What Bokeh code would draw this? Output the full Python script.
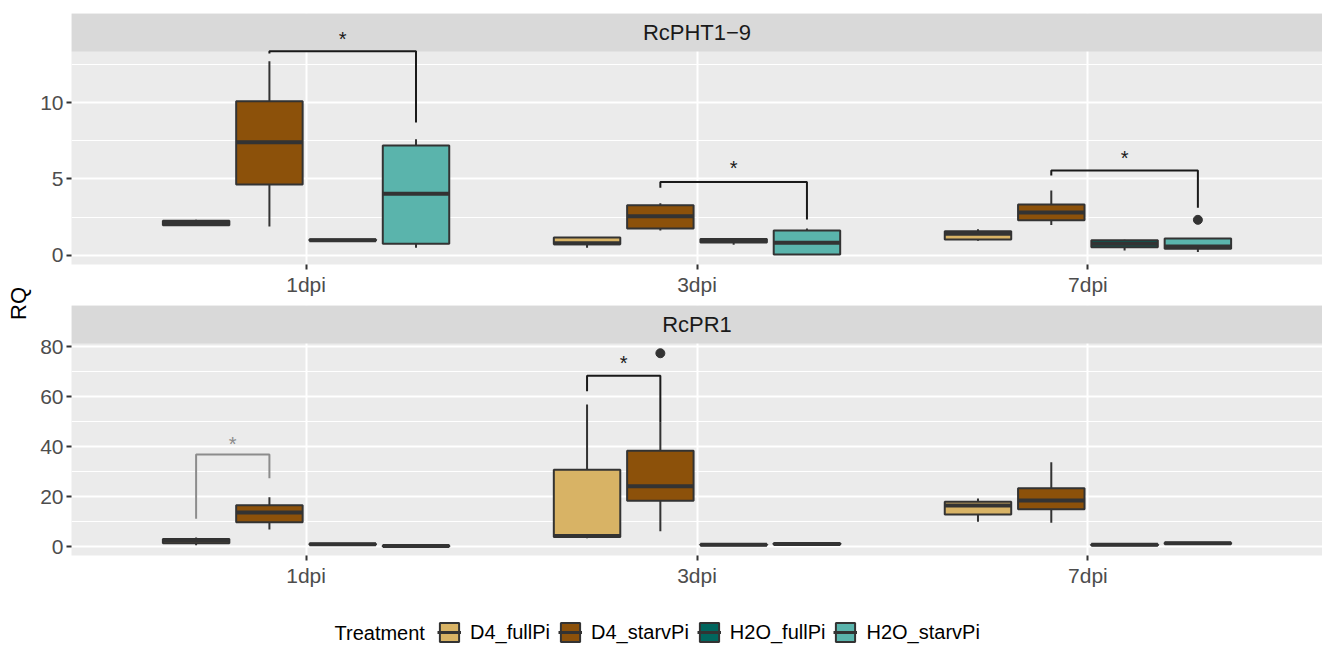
import numpy as np
from bokeh.plotting import figure
from bokeh.models import ColumnDataSource, Range1d, FixedTicker
from bokeh.layouts import column, row
from bokeh.embed import file_html
from bokeh.resources import INLINE
from bokeh.core.properties import value

# ---------------- data ----------------
days = ["1dpi", "3dpi", "7dpi"]
treatments = ["D4_fullPi", "D4_starvPi", "H2O_fullPi", "H2O_starvPi"]
colors = ["#D8B365", "#8C510A", "#01665E", "#5AB4AC"]

# RcPHT1-9 box statistics, order: day-major, treatment-minor
pht_low  = [1.93, 1.90, 0.93, 0.50,   0.50, 1.63, 0.70, 0.05,   0.96, 2.00, 0.33, 0.22]
pht_q1   = [1.98, 4.64, 0.97, 0.76,   0.73, 1.76, 0.85, 0.07,   1.05, 2.31, 0.54, 0.44]
pht_med  = [2.12, 7.40, 1.00, 4.03,   0.80, 2.57, 0.95, 0.83,   1.42, 2.81, 0.76, 0.58]
pht_q3   = [2.27, 10.08, 1.04, 7.19,  1.18, 3.29, 1.08, 1.63,   1.59, 3.33, 1.00, 1.11]
pht_high = [2.33, 12.70, 1.07, 7.60,  1.20, 3.42, 1.10, 1.76,   1.72, 4.25, 1.02, 1.13]
pht_out_day = ["7dpi"]
pht_out_treat = ["H2O_starvPi"]
pht_out_val = [2.33]
pht_br_day = ["1dpi", "3dpi", "7dpi"]
pht_br_left = ["D4_starvPi", "D4_starvPi", "D4_starvPi"]
pht_br_right = ["H2O_starvPi", "H2O_starvPi", "H2O_starvPi"]
pht_br_top = [13.36, 4.80, 5.56]
pht_br_lend = [13.20, 4.42, 5.23]
pht_br_rend = [8.70, 2.35, 3.12]
pht_br_color = ["#1A1A1A", "#1A1A1A", "#1A1A1A"]
pht_star_y = [14.16, 5.71, 6.39]

# RcPR1 box statistics
pr_low  = [0.5, 6.8, 0.6, 0.0,    3.3, 6.1, 0.4, 0.6,    9.9, 9.5, 0.4, 0.9]
pr_q1   = [1.3, 9.7, 0.7, 0.1,    3.8, 18.3, 0.5, 0.8,   12.8, 14.9, 0.5, 1.0]
pr_med  = [2.3, 13.6, 0.9, 0.2,   4.2, 24.1, 0.7, 1.0,   16.4, 18.4, 0.7, 1.3]
pr_q3   = [3.0, 16.5, 1.1, 0.4,   30.7, 38.3, 0.9, 1.3,  17.9, 23.3, 0.9, 1.5]
pr_high = [3.6, 19.7, 1.2, 0.5,   56.8, 49.5, 1.0, 1.6,  19.2, 33.7, 1.0, 1.7]
pr_out_day = ["3dpi"]
pr_out_treat = ["D4_starvPi"]
pr_out_val = [77.3]
pr_br_day = ["1dpi", "3dpi"]
pr_br_left = ["D4_fullPi", "D4_fullPi"]
pr_br_right = ["D4_starvPi", "D4_starvPi"]
pr_br_top = [36.8, 68.3]
pr_br_lend = [11.1, 62.1]
pr_br_rend = [27.3, 49.5]
pr_br_color = ["#8C8C8C", "#1A1A1A"]
pr_star_y = [41.2, 73.5]

# ---------------- style ----------------
FONT = value("Liberation Sans")
EDGE = "#333333"
PANEL_BG = "#EBEBEB"
STRIP_BG = "#D9D9D9"
DODGE = 0.75 / 4
BOX_W = 0.17
X_START, X_END = 0.4, 3.6


def xpos(day, treat):
    return days.index(day) + 1 + (treatments.index(treat) - 1.5) * DODGE


def build_panel(title, low, q1, med, q3, high, out_day, out_treat, out_val,
                br_day, br_left, br_right, br_top, br_lend, br_rend, br_color, star_y,
                y_start, panel_top, frame_top, major, minor, height, border_top, border_bottom):
    xs, cols = [], []
    for d in days:
        for ti, t in enumerate(treatments):
            xs.append(xpos(d, t))
            cols.append(colors[ti])
    xs = np.array(xs)
    src = ColumnDataSource(dict(x=xs, xl=xs - BOX_W / 2, xr=xs + BOX_W / 2,
                                low=low, q1=q1, med=med, q3=q3, high=high, color=cols))
    p = figure(width=1290, height=height, x_range=Range1d(X_START, X_END),
               y_range=Range1d(y_start, frame_top), output_backend="svg",
               toolbar_location=None, min_border_left=39, min_border_right=0,
               min_border_top=border_top, min_border_bottom=border_bottom)
    p.background_fill_color = PANEL_BG
    p.border_fill_color = "white"
    p.outline_line_color = None

    # strip
    p.quad(left=[X_START], right=[X_END], bottom=[panel_top], top=[frame_top],
           fill_color=STRIP_BG, line_color=None)
    p.text(x=[(X_START + X_END) / 2], y=[(panel_top + frame_top) / 2], text=[title],
           text_font=FONT, text_font_size="22px", text_color="#1A1A1A",
           text_align="center", text_baseline="middle")

    # boxes
    p.segment(x0="x", y0="q3", x1="x", y1="high", source=src, line_color=EDGE, line_width=2)
    p.segment(x0="x", y0="q1", x1="x", y1="low", source=src, line_color=EDGE, line_width=2)
    p.vbar(x="x", width=BOX_W, bottom="q1", top="q3", source=src, fill_color="color",
           line_color=EDGE, line_width=2)
    p.segment(x0="xl", y0="med", x1="xr", y1="med", source=src, line_color=EDGE,
              line_width=4, line_cap="butt")
    ox = [xpos(d, t) for d, t in zip(out_day, out_treat)]
    p.scatter(ox, out_val, size=9, color=EDGE)

    # significance brackets
    bx, by, sx = [], [], []
    for d, l, r, top, le, re in zip(br_day, br_left, br_right, br_top, br_lend, br_rend):
        xl, xr = xpos(d, l), xpos(d, r)
        bx.append([xl, xl, xr, xr])
        by.append([le, top, top, re])
        sx.append((xl + xr) / 2)
    p.multi_line(xs=bx, ys=by, line_color=br_color, line_width=2)
    p.text(x=sx, y=star_y, text=["*"] * len(sx), text_color=br_color, text_font=FONT,
           text_font_size="20px", text_align="center", text_baseline="middle")

    # axes
    xt = FixedTicker(ticks=[1, 2, 3])
    yt = FixedTicker(ticks=major, minor_ticks=minor)
    p.xaxis.ticker = xt
    p.xgrid.ticker = xt
    p.yaxis.ticker = yt
    p.ygrid.ticker = yt
    p.xaxis.major_label_overrides = {i + 1: d for i, d in enumerate(days)}
    for ax in (p.xaxis, p.yaxis):
        ax.axis_line_color = None
        ax.major_tick_line_color = EDGE
        ax.major_tick_line_width = 2
        ax.major_tick_out = 5
        ax.major_tick_in = 0
        ax.minor_tick_line_color = None
        ax.major_label_text_font = "Liberation Sans"
        ax.major_label_text_font_size = "21px"
        ax.major_label_text_color = "#4D4D4D"
        ax.major_label_standoff = 3
    p.xgrid.grid_line_color = "white"
    p.xgrid.grid_line_width = 2
    p.ygrid.grid_line_color = "white"
    p.ygrid.grid_line_width = 2
    p.ygrid.minor_grid_line_color = "white"
    p.ygrid.minor_grid_line_width = 1
    return p


p1 = build_panel("RcPHT1\u22129", pht_low, pht_q1, pht_med, pht_q3, pht_high,
                 pht_out_day, pht_out_treat, pht_out_val,
                 pht_br_day, pht_br_left, pht_br_right, pht_br_top, pht_br_lend, pht_br_rend,
                 pht_br_color, pht_star_y,
                 y_start=-0.59, panel_top=13.33, frame_top=15.82,
                 major=[0, 5, 10], minor=[2.5, 7.5, 12.5], height=300,
                 border_top=13, border_bottom=36)
p2 = build_panel("RcPR1", pr_low, pr_q1, pr_med, pr_q3, pr_high,
                 pr_out_day, pr_out_treat, pr_out_val,
                 pr_br_day, pr_br_left, pr_br_right, pr_br_top, pr_br_lend, pr_br_rend,
                 pr_br_color, pr_star_y,
                 y_start=-3.6, panel_top=81.2, frame_top=96.4,
                 major=[0, 20, 40, 60, 80], minor=[10, 30, 50, 70], height=300,
                 border_top=5, border_bottom=45)

# y axis title
rq = figure(width=32, height=600, x_range=Range1d(0, 32), y_range=Range1d(0, 600),
            x_axis_location=None, y_axis_location=None, output_backend="svg",
            toolbar_location=None, min_border=0)
rq.outline_line_color = None
rq.grid.visible = False
rq.text(x=[18], y=[297], text=["RQ"], angle=np.pi / 2, text_font=FONT,
        text_font_size="22px", text_color="black", text_align="center", text_baseline="middle")

# legend
leg = figure(width=1322, height=46, x_range=Range1d(0, 1322), y_range=Range1d(0, 46),
             x_axis_location=None, y_axis_location=None, output_backend="svg",
             toolbar_location=None, min_border=0)
leg.outline_line_color = None
leg.grid.visible = False
leg_src = ColumnDataSource(dict(treatment=treatments, color=colors))
leg.vbar(x=0, width=1, bottom=0, top=1, fill_color="color", line_color=EDGE, line_width=2,
         source=leg_src, legend_field="treatment", visible=False)
leg.segment(x0=0, x1=1, y0=0, y1=0, line_color=EDGE, line_width=3,
            source=leg_src, legend_field="treatment", visible=False)
lg = leg.legend[0]
lg.location = (437, 2)
lg.orientation = "horizontal"
lg.border_line_color = None
lg.background_fill_alpha = 0
lg.padding = 0
lg.margin = 0
lg.spacing = 8
lg.glyph_width = 24
lg.glyph_height = 24
lg.label_standoff = 9
lg.label_text_font = "Liberation Sans"
lg.label_text_font_size = "20px"
lg.label_text_color = "black"
leg.text(x=[334], y=[14], text=["Treatment"], text_font=FONT, text_font_size="20px",
         text_color="black", text_align="left", text_baseline="middle")

layout = column(row(rq, column(p1, p2)), leg)
open("out.html", "w").write(file_html(layout, INLINE))
